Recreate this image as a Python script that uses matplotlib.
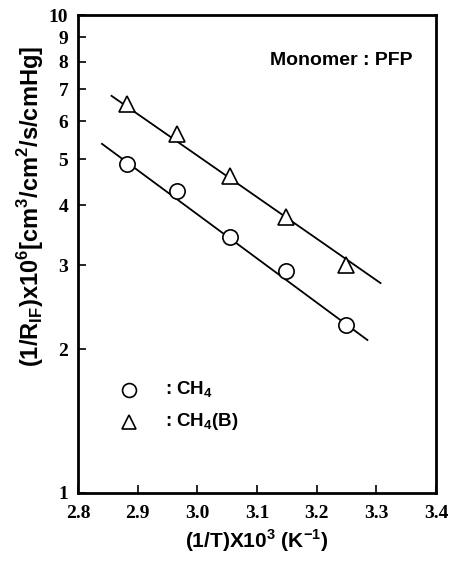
import numpy as np
import matplotlib
matplotlib.use("Agg")
import matplotlib.pyplot as plt

plt.rcParams["mathtext.fontset"] = "custom"
plt.rcParams["mathtext.bf"] = "Liberation Sans:bold"
plt.rcParams["mathtext.rm"] = "Liberation Sans:bold"

# data
inv_t = [2.882, 2.966, 3.055, 3.149, 3.249]
ch4 = [4.88, 4.28, 3.44, 2.92, 2.25]
ch4_b = [6.53, 5.64, 4.60, 3.79, 3.00]

# fitted lines (end points)
fit_ch4_x = [2.84, 3.285]
fit_ch4_y = [5.38, 2.09]
fit_b_x = [2.856, 3.307]
fit_b_y = [6.78, 2.75]

xticks = [2.8, 2.9, 3.0, 3.1, 3.2, 3.3, 3.4]
xtick_labels = ["2.8", "2.9", "3.0", "3.1", "3.2", "3.3", "3.4"]
yticks = [1, 2, 3, 4, 5, 6, 7, 8, 9, 10]

sans = ["Liberation Sans", "DejaVu Sans"]

fig = plt.figure(figsize=(4.49, 5.64), dpi=100)
ax = fig.add_axes([0.174, 0.126, 0.797, 0.847])

ax.plot(fit_ch4_x, fit_ch4_y, color="black", lw=1.3)
ax.plot(fit_b_x, fit_b_y, color="black", lw=1.3)
ax.plot(inv_t, ch4, "o", ms=11, mfc="white", mec="black", mew=1.2)
ax.plot(inv_t, ch4_b, "^", ms=11, mfc="white", mec="black", mew=1.2)

ax.set_yscale("log")
ax.set_xlim(2.8, 3.4)
ax.set_ylim(1, 10)
ax.set_xticks(xticks)
ax.set_xticklabels(xtick_labels, fontfamily="Liberation Serif",
                   fontweight="bold", fontsize=14)
ax.set_yticks(yticks)
ax.set_yticklabels([str(v) for v in yticks], fontfamily="Liberation Serif",
                   fontweight="bold", fontsize=14)
ax.yaxis.set_minor_locator(matplotlib.ticker.NullLocator())
ax.tick_params(direction="in", length=6, width=1.2, pad=7)
ax.tick_params(axis="x", pad=9)
for s in ax.spines.values():
    s.set_linewidth(2)

ax.set_xlabel(r"(1/T)X10$^{\mathbf{3}}$ (K$^{\mathbf{-1}}$)", family=sans,
              fontweight="bold", fontsize=15)
ax.xaxis.set_label_coords(0.5, -0.072)
ax.set_ylabel(r"(1/R$_{\mathbf{IF}}$)x10$^{\mathbf{6}}$[cm$^{\mathbf{3}}$/cm$^{\mathbf{2}}$/s/cmHg]",
              family=sans, fontweight="bold", fontsize=17)
ax.yaxis.set_label_coords(-0.09, 0.60)

ax.text(0.935, 0.906, "Monomer : PFP", transform=ax.transAxes, ha="right",
        va="center", family=sans, fontweight="bold", fontsize=14)

# legend drawn by hand
ax.plot([2.886], [1.64], "o", ms=10, mfc="white", mec="black", mew=1.2)
ax.plot([2.886], [1.41], "^", ms=10, mfc="white", mec="black", mew=1.2)
ax.text(2.945, 1.64, r": CH$_{\mathbf{4}}$", va="center", family=sans,
        fontweight="bold", fontsize=13.5)
ax.text(2.945, 1.41, r": CH$_{\mathbf{4}}$(B)", va="center", family=sans,
        fontweight="bold", fontsize=13.5)

fig.savefig("out.png", dpi=100)
